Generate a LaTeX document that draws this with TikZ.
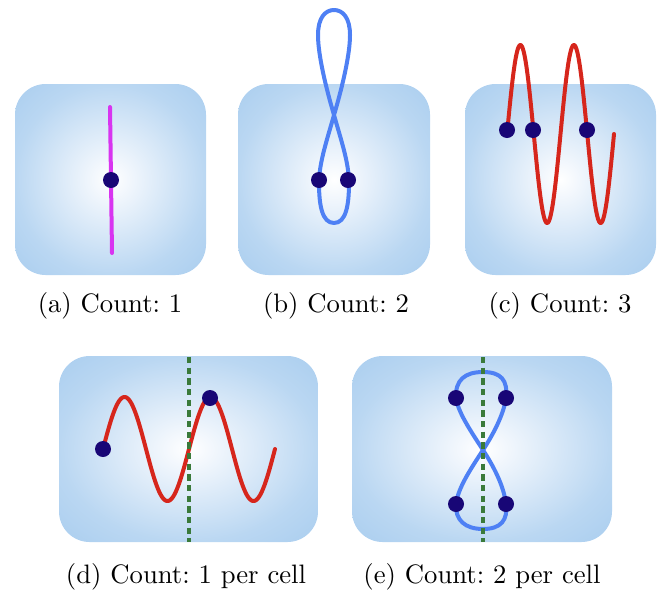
\documentclass[tikz,border=0pt]{standalone}
\usepackage{tikz}
\definecolor{dotc}{RGB}{24,6,118}
\definecolor{magc}{RGB}{216,52,240}
\definecolor{redc}{RGB}{214,38,28}
\definecolor{bluec}{RGB}{78,128,244}
\definecolor{greenc}{RGB}{58,122,58}
\definecolor{bx0}{RGB}{244,248,253}
\definecolor{bxM}{RGB}{186,215,242}
\definecolor{bxA}{RGB}{148,193,235}
\definecolor{bxB}{RGB}{128,180,230}
\pgfdeclareradialshading{boxshade}{\pgfpoint{0bp}{0bp}}{color(0bp)=(white); color(4bp)=(bx0); color(25bp)=(bxM); color(50bp)=(bxA); color(71bp)=(bxB)}
\tikzset{
  cellbox/.style={shading=boxshade, rounded corners=11.5pt, draw=none},
  curve/.style={line width=1.5pt, line cap=round, line join=round},
  dotnode/.style={circle, fill=dotc, inner sep=0pt, minimum size=6pt},
  cellline/.style={greenc, line width=1.2pt, dash pattern=on 2.4pt off 1.6pt},
  caption/.style={font=\normalsize, inner sep=0pt}
}
\begin{document}
\begin{tikzpicture}[x=0.375pt,y=-0.375pt]
\useasboundingbox (0,0) rectangle (662,597);
% boxes
\shade[cellbox] (15,84) rectangle (206,275);
\shade[cellbox] (238,84) rectangle (430,275);
\shade[cellbox] (465,84) rectangle (656,275);
\shade[cellbox] (59,356) rectangle (318,542);
\shade[cellbox] (352,356) rectangle (612,542);
% (a)
\coordinate (atop) at (110,107);
\coordinate (abot) at (112,253);
\draw[curve, magc] (atop) -- (abot);
\node[dotnode] (a1) at (111,180) {};
% (b)
\coordinate (bx) at (334,115);
\draw[curve, bluec] (bx)
 .. controls (327,140) and (319,163) .. (319,183)
 .. controls (319,205) and (322,223) .. (334,223)
 .. controls (346,223) and (349,205) .. (349,183)
 .. controls (349,163) and (341,140) .. (bx)
 .. controls (326,88) and (318,55) .. (318,35)
 .. controls (318,18) and (325,10) .. (334,10)
 .. controls (343,10) and (350,18) .. (350,35)
 .. controls (350,55) and (342,88) .. (bx) -- cycle;
\node[dotnode] (b1) at (319,180) {};
\node[dotnode] (b2) at (348,180) {};
% (c)
\draw[curve, redc] plot[domain=507:614, samples=160] (\x, {134-89*sin((\x-507)/53.5*360)});
\node[dotnode] (c1) at (507,130) {};
\node[dotnode] (c2) at (533,130) {};
\node[dotnode] (c3) at (587,130) {};
% (d)
\draw[curve, redc] plot[domain=103:275, samples=160] (\x, {449-52*sin((\x-103)/86*360)});
\coordinate (dtop) at (189,357);
\coordinate (dbot) at (189,542);
\draw[cellline] (dtop) -- (dbot);
\node[dotnode] (d1) at (103,449) {};
\node[dotnode] (d2) at (210,398) {};
% (e)
\coordinate (ex) at (483,450);
\draw[curve, bluec] (ex)
 .. controls (470,470) and (458,488) .. (456,504)
 .. controls (455,520) and (465,529) .. (483,529)
 .. controls (501,529) and (508,520) .. (506,504)
 .. controls (504,488) and (496,470) .. (ex)
 .. controls (470,430) and (458,412) .. (456,398)
 .. controls (455,380) and (465,372) .. (483,372)
 .. controls (501,372) and (508,380) .. (506,398)
 .. controls (504,412) and (496,430) .. (ex) -- cycle;
\coordinate (etop) at (483,357);
\coordinate (ebot) at (483,542);
\draw[cellline] (etop) -- (ebot);
\node[dotnode] (e1) at (456,398) {};
\node[dotnode] (e2) at (506,398) {};
\node[dotnode] (e3) at (456,504) {};
\node[dotnode] (e4) at (506,504) {};
% captions
\node[caption] (capa) at (110,306) {(a)~Count:~1};
\node[caption] (capb) at (336,306) {(b)~Count:~2};
\node[caption] (capc) at (560,306) {(c)~Count:~3};
\node[caption] (capd) at (186,577) {(d)~Count:~1 per cell};
\node[caption] (cape) at (482,577) {(e)~Count:~2 per cell};
\end{tikzpicture}
\end{document}
